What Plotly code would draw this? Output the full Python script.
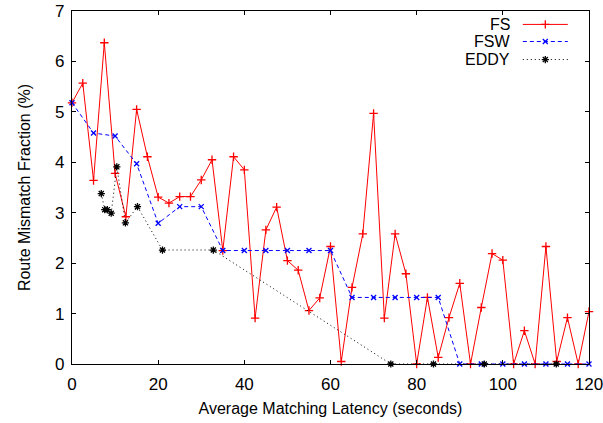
import plotly.graph_objects as go

# ---- data ----
fs_x = [0, 2.5, 5, 7.5, 10, 12.5, 15, 17.5, 20, 22.5, 25, 27.5, 30, 32.5, 35, 37.5,
        40, 42.5, 45, 47.5, 50, 52.5, 55, 57.5, 60, 62.5, 65, 67.5, 70, 72.5, 75,
        77.5, 80, 82.5, 85, 87.5, 90, 92.5, 95, 97.5, 100, 102.5, 105, 107.5, 110,
        112.5, 115, 117.5, 120]
fs_y = [5.18, 5.57, 3.64, 6.37, 3.78, 2.92, 5.05, 4.11, 3.31, 3.19, 3.32, 3.32, 3.65,
        4.05, 2.25, 4.11, 3.85, 0.91, 2.66, 3.11, 2.05, 1.86, 1.06, 1.31, 2.33, 0.05,
        1.52, 2.58, 4.97, 0.91, 2.58, 1.79, 0.0, 1.32, 0.13, 0.92, 1.60, 0.0, 1.12,
        2.19, 2.06, 0.0, 0.66, 0.0, 2.33, 0.05, 0.92, 0.0, 1.04]

fsw_x = [0, 5, 10, 15, 20, 25, 30, 35, 40, 45, 50, 55, 60, 65, 70, 75, 80, 85, 90,
         95, 100, 105, 110, 115, 120]
fsw_y = [5.18, 4.58, 4.52, 3.97, 2.79, 3.12, 3.12, 2.25, 2.25, 2.25, 2.25, 2.25, 2.25,
         1.32, 1.32, 1.32, 1.32, 1.32, 0, 0, 0, 0, 0, 0, 0]

eddy_x = [6.8, 7.6, 8.2, 9.1, 10.4, 12.4, 15.2, 21.0, 32.8, 74.0, 83.9, 95.7, 112.4]
eddy_y = [3.38, 3.06, 3.06, 2.99, 3.91, 2.80, 3.12, 2.26, 2.26, 0, 0, 0, 0]

series_names = ["FS", "FSW", "EDDY"]
x_ticks = [0, 20, 40, 60, 80, 100, 120]
y_ticks = [0, 1, 2, 3, 4, 5, 6, 7]

FONT = "Liberation Sans, Arial, Helvetica, sans-serif"
FS_STYLE = dict(color="#ff0000", dash="solid", symbol="cross-thin-open", size=6)
FSW_STYLE = dict(color="#0000ff", dash="4px,3px", symbol="x-thin-open", size=5)
EDDY_STYLE = dict(color="#000000", dash="1px,3px", symbol="asterisk-open", size=6)
styles = [FS_STYLE, FSW_STYLE, EDDY_STYLE]

fig = go.Figure()
for name, xs, ys, st in zip(series_names, [fs_x, fsw_x, eddy_x], [fs_y, fsw_y, eddy_y], styles):
    fig.add_trace(go.Scatter(
        x=xs, y=ys, mode="lines+markers", name=name, showlegend=False,
        line=dict(color=st["color"], width=1, dash=st["dash"]),
        marker=dict(symbol=st["symbol"], size=st["size"],
                    line=dict(color=st["color"], width=1.3), color=st["color"]),
        cliponaxis=False,
    ))

# gnuplot-style key (text, then sample) drawn on an overlaid unit axis
key_rows = [0.962, 0.9135, 0.8625]
key_x0, key_x1, key_xm, key_text_x = 0.872, 0.959, 0.9155, 0.851
for name, st, ry in zip(series_names, styles, key_rows):
    fig.add_trace(go.Scatter(
        x=[key_x0, key_xm, key_x1], y=[ry, ry, ry], mode="lines",
        xaxis="x2", yaxis="y2", showlegend=False, hoverinfo="skip",
        line=dict(color=st["color"], width=1, dash=st["dash"]),
    ))
    fig.add_trace(go.Scatter(
        x=[key_xm], y=[ry], mode="markers",
        xaxis="x2", yaxis="y2", showlegend=False, hoverinfo="skip",
        marker=dict(symbol=st["symbol"], size=st["size"],
                    line=dict(color=st["color"], width=1.3), color=st["color"]),
    ))
    fig.add_annotation(x=key_text_x, y=ry, xref="x2", yref="y2", text=name,
                       showarrow=False, xanchor="right", yanchor="middle",
                       font=dict(family=FONT, size=16, color="black"))

axis_common = dict(
    showline=True, linecolor="black", linewidth=1.3, mirror="ticks",
    ticks="inside", ticklen=4, tickwidth=1, tickcolor="black",
    showgrid=False, zeroline=False, ticklabeloverflow="allow", automargin=False,
    tickfont=dict(family=FONT, size=17, color="black"),
)

fig.update_layout(
    width=603, height=423,
    margin=dict(l=72, r=14, t=11, b=59),
    paper_bgcolor="white", plot_bgcolor="white",
    font=dict(family=FONT, size=17, color="black"),
    xaxis=dict(range=[0, 120], tickvals=x_ticks, ticktext=[str(v) for v in x_ticks],
               title=dict(text="Average Matching Latency (seconds)",
                          font=dict(family=FONT, size=16, color="black"), standoff=10),
               ticklabelstandoff=4, **axis_common),
    yaxis=dict(range=[0, 7], tickvals=y_ticks, ticktext=[str(v) for v in y_ticks],
               title=dict(text="Route Mismatch Fraction (%)",
                          font=dict(family=FONT, size=16, color="black"), standoff=20),
               ticklabelstandoff=3, **axis_common),
    xaxis2=dict(range=[0, 1], overlaying="x", visible=False, fixedrange=True),
    yaxis2=dict(range=[0, 1], overlaying="y", visible=False, fixedrange=True),
    showlegend=False,
)

fig.add_annotation(x=0.505, y=-0.158, xref="paper", yref="paper", text="(a)",
                   showarrow=False, yanchor="top",
                   font=dict(family=FONT, size=16, color="black"))

fig.write_html("out.html")
